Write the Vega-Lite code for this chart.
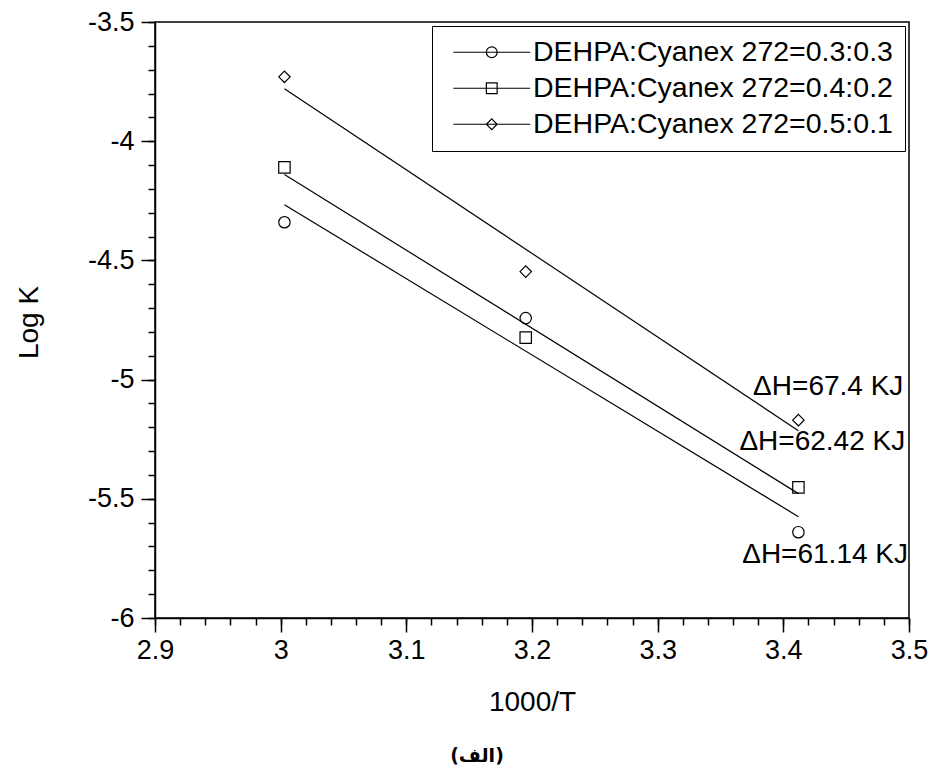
{
  "$schema": "https://vega.github.io/schema/vega-lite/v6.json",
  "width": 754,
  "height": 596,
  "autosize": "none",
  "padding": {"left": 155, "top": 22, "right": 21, "bottom": 151},
  "background": "white",
  "config": {
    "font": "Liberation Sans",
    "view": {"stroke": "black", "strokeWidth": 1.5},
    "axis": {"grid": false, "domainColor": "black", "domainWidth": 1.5, "tickColor": "black", "tickWidth": 1.5, "labelColor": "black", "titleColor": "black", "labelFont": "Liberation Sans", "titleFont": "Liberation Sans", "titleFontWeight": "normal", "labelFlush": false, "labelOverlap": false}
  },
  "datasets": {
    "pts": [
      {"series": "DEHPA:Cyanex 272=0.3:0.3", "x": 3.003, "y": -4.34},
      {"series": "DEHPA:Cyanex 272=0.3:0.3", "x": 3.195, "y": -4.742},
      {"series": "DEHPA:Cyanex 272=0.3:0.3", "x": 3.412, "y": -5.64},
      {"series": "DEHPA:Cyanex 272=0.4:0.2", "x": 3.003, "y": -4.11},
      {"series": "DEHPA:Cyanex 272=0.4:0.2", "x": 3.195, "y": -4.824},
      {"series": "DEHPA:Cyanex 272=0.4:0.2", "x": 3.412, "y": -5.452},
      {"series": "DEHPA:Cyanex 272=0.5:0.1", "x": 3.003, "y": -3.73},
      {"series": "DEHPA:Cyanex 272=0.5:0.1", "x": 3.195, "y": -4.547},
      {"series": "DEHPA:Cyanex 272=0.5:0.1", "x": 3.412, "y": -5.17}
    ],
    "ann": [
      {"label": "ΔH=67.4 KJ", "x": 3.4955, "y": -5.03},
      {"label": "ΔH=62.42 KJ", "x": 3.497, "y": -5.262},
      {"label": "ΔH=61.14 KJ", "x": 3.4992, "y": -5.736}
    ]
  },
  "layer": [
    {
      "data": {"name": "pts"},
      "transform": [{"regression": "y", "on": "x", "groupby": ["series"]}],
      "mark": {"type": "line", "color": "black", "strokeWidth": 1.2},
      "encoding": {
        "x": {"field": "x", "type": "quantitative", "scale": {"domain": [2.9, 3.5], "zero": false, "nice": false},
          "axis": {"orient": "bottom", "values": [2.9, 3.0, 3.1, 3.2, 3.3, 3.4, 3.5], "tickSize": 14, "labelFontSize": 27, "labelPadding": 5, "labelExpr": "'' + datum.value", "title": "1000/T", "titleFontSize": 28, "titleY": 84, "titleBaseline": "middle"}},
        "y": {"field": "y", "type": "quantitative", "scale": {"domain": [-6, -3.5], "zero": false, "nice": false},
          "axis": {"orient": "left", "values": [-6, -5.5, -5, -4.5, -4, -3.5], "tickSize": 14, "labelFontSize": 27, "labelPadding": 7, "labelExpr": "'' + datum.value", "title": "Log K", "titleFontSize": 28, "titleX": -126, "titleY": 300, "titleBaseline": "middle", "titleAlign": "center"}},
        "detail": {"field": "series"}
      }
    },
    {
      "data": {"name": "pts"},
      "mark": {"type": "point", "filled": false, "color": "black", "size": 130, "strokeWidth": 1.2, "opacity": 1},
      "encoding": {
        "x": {"field": "x", "type": "quantitative", "scale": {"domain": [2.9, 3.5], "zero": false, "nice": false},
          "axis": {"orient": "bottom", "values": [2.9, 2.92, 2.94, 2.96, 2.98, 3.0, 3.02, 3.04, 3.06, 3.08, 3.1, 3.12, 3.14, 3.16, 3.18, 3.2, 3.22, 3.24, 3.26, 3.28, 3.3, 3.32, 3.34, 3.36, 3.38, 3.4, 3.42, 3.44, 3.46, 3.48, 3.5], "tickSize": 7, "labels": false, "domain": false, "title": null}},
        "y": {"field": "y", "type": "quantitative", "scale": {"domain": [-6, -3.5], "zero": false, "nice": false},
          "axis": {"orient": "left", "values": [-6, -5.9, -5.8, -5.7, -5.6, -5.5, -5.4, -5.3, -5.2, -5.1, -5, -4.9, -4.8, -4.7, -4.6, -4.5, -4.4, -4.3, -4.2, -4.1, -4, -3.9, -3.8, -3.7, -3.6, -3.5], "tickSize": 7, "labels": false, "domain": false, "title": null}},
        "shape": {"field": "series", "type": "nominal", "scale": {"domain": ["DEHPA:Cyanex 272=0.3:0.3", "DEHPA:Cyanex 272=0.4:0.2", "DEHPA:Cyanex 272=0.5:0.1"], "range": ["circle", "square", "diamond"]}, "legend": null}
      }
    },
    {
      "data": {"name": "pts"},
      "mark": {"type": "point", "filled": false, "color": "black", "opacity": 0},
      "encoding": {
        "x": {"field": "x", "type": "quantitative", "scale": {"domain": [2.9, 3.5], "zero": false, "nice": false}, "axis": null},
        "y": {"field": "y", "type": "quantitative", "scale": {"domain": [-6, -3.5], "zero": false, "nice": false}, "axis": null},
        "shape": {"field": "series", "type": "nominal",
          "scale": {"domain": ["DEHPA:Cyanex 272=0.3:0.3", "DEHPA:Cyanex 272=0.4:0.2", "DEHPA:Cyanex 272=0.5:0.1"],
            "range": ["M-6.4,0L6.4,0M0.9,0A0.9,0.9,0,1,1,-0.9,0A0.9,0.9,0,1,1,0.9,0", "M-6.4,0L6.4,0M-0.9,-0.9L0.9,-0.9L0.9,0.9L-0.9,0.9Z", "M-6.4,0L6.4,0M0,-0.9L0.9,0L0,0.9L-0.9,0Z"]},
          "legend": {"title": null, "orient": "top-right", "offset": 4, "padding": 12, "strokeColor": "black", "fillColor": "white", "labelFontSize": 28.5, "labelFont": "Liberation Sans", "labelColor": "black", "labelLimit": 600, "labelBaseline": "middle", "symbolSize": 144, "symbolStrokeWidth": 1.2, "symbolStrokeColor": "black", "symbolFillColor": "transparent", "symbolOpacity": 1, "symbolOffset": 33.5, "labelOffset": 27, "rowPadding": 7}}
      }
    },
    {
      "data": {"name": "ann"},
      "mark": {"type": "text", "align": "right", "baseline": "middle", "fontSize": 28, "font": "Liberation Sans", "color": "black"},
      "encoding": {
        "x": {"field": "x", "type": "quantitative", "scale": {"domain": [2.9, 3.5], "zero": false, "nice": false}, "axis": null},
        "y": {"field": "y", "type": "quantitative", "scale": {"domain": [-6, -3.5], "zero": false, "nice": false}, "axis": null},
        "text": {"field": "label"}
      }
    }
  ],
  "resolve": {"scale": {"shape": "independent"}, "legend": {"shape": "independent"}, "axis": {"x": "independent", "y": "independent"}},
  "title": {"text": "(الف)", "orient": "bottom", "anchor": "middle", "frame": "group", "fontSize": 19, "fontWeight": "bold", "font": "DejaVu Sans", "color": "black", "offset": 31, "dx": -55}
}
